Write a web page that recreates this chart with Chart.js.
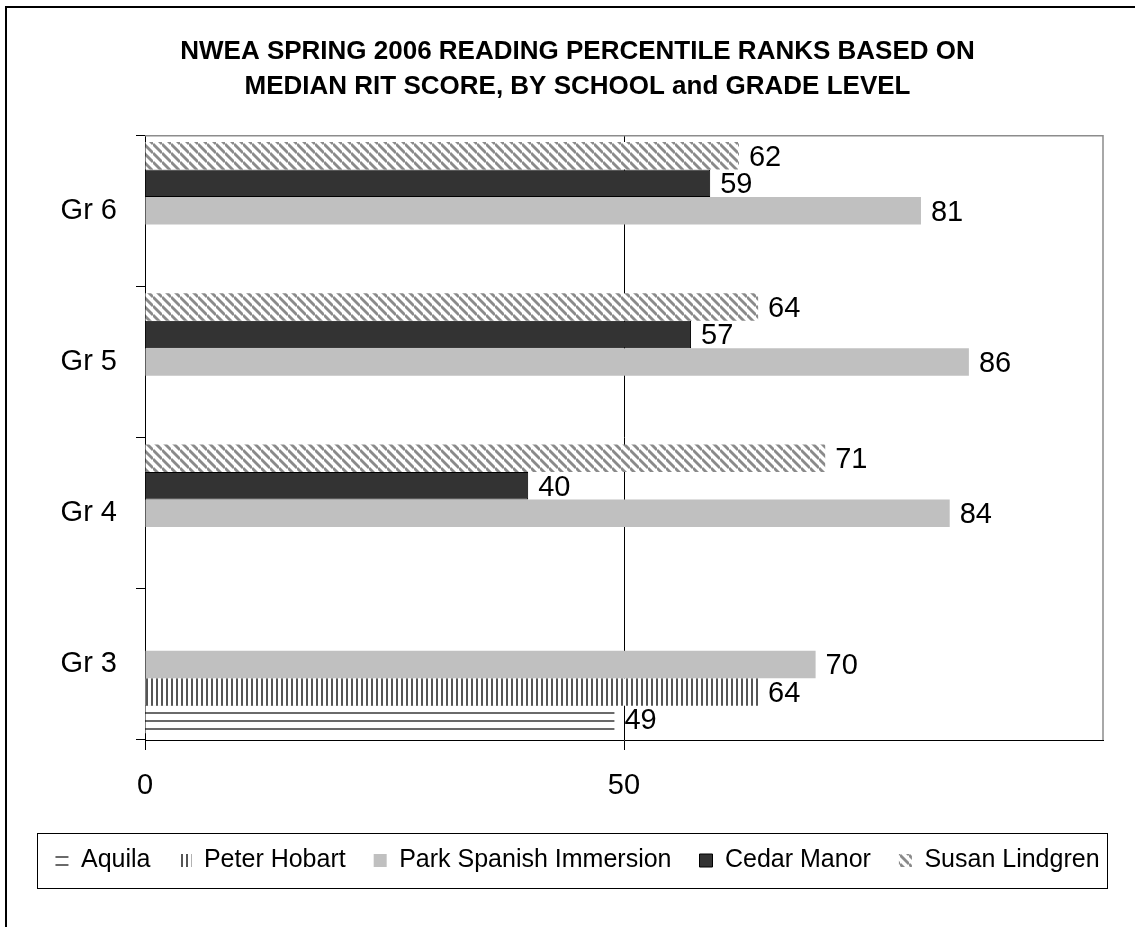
<!DOCTYPE html>
<html lang="en">
<head>
  <meta charset="UTF-8" />
  <title>NWEA Spring 2006 Reading Percentile Ranks</title>
  <script src="https://cdn.jsdelivr.net/npm/chart.js"></script>
  <style>
    body {
      margin: 0;
      background: #ffffff;
    }
    #chartContainer {
      width: 1135px;
      height: 927px;
    }
  </style>
</head>
<body>

  <div id="chartContainer">
    <canvas id="nweaChart"></canvas>
  </div>

  <script>
    // grades from top to bottom, as they appear in the chart
    const grades = ['Gr 6', 'Gr 5', 'Gr 4', 'Gr 3'];

    // one array per school, same order as grades
    const susanLindgren = [62, 64, 71, null];
    const cedarManor = [59, 57, 40, null];
    const parkSpanish = [81, 86, 84, 70];
    const peterHobart = [null, null, null, 64];
    const aquila = [null, null, null, 49];

    const xTicks = [0, 50, 100];
    const xTickLabels = ['0', '50', ''];

    const titleLines = [
      'NWEA SPRING 2006 READING PERCENTILE RANKS BASED ON',
      'MEDIAN RIT SCORE, BY SCHOOL and GRADE LEVEL'
    ];

    const FONT = '"Liberation Sans", Arial, sans-serif';

    // hatch fills like the old Excel patterns
    function makePattern(kind) {
      const c = document.createElement('canvas');
      const p = c.getContext('2d');
      if (kind === 'horizontal') {
        c.width = 8; c.height = 8;
        p.fillStyle = '#ffffff';
        p.fillRect(0, 0, 8, 8);
        p.fillStyle = '#6a6a6a';
        p.fillRect(0, 0, 8, 2);
      } else if (kind === 'vertical') {
        c.width = 5; c.height = 5;
        p.fillStyle = '#ffffff';
        p.fillRect(0, 0, 5, 5);
        p.fillStyle = '#555555';
        p.fillRect(1, 0, 2, 5);
      } else {
        const s = 9;
        c.width = s; c.height = s;
        p.fillStyle = '#ffffff';
        p.fillRect(0, 0, s, s);
        p.strokeStyle = '#8a8a8a';
        p.lineWidth = 2.8;
        for (let k = -1; k <= 1; k++) {
          p.beginPath();
          p.moveTo(0, k * s);
          p.lineTo(s, s + k * s);
          p.stroke();
        }
      }
      return p.createPattern(c, 'repeat');
    }

    // white page with the thin outer frame
    const pageFrame = {
      id: 'pageFrame',
      beforeDraw(chart) {
        const ctx = chart.ctx;
        ctx.save();
        ctx.fillStyle = '#ffffff';
        ctx.fillRect(0, 0, chart.width, chart.height);
        ctx.strokeStyle = '#000000';
        ctx.lineWidth = 2;
        ctx.strokeRect(6, 7, chart.width + 20, chart.height + 20);
        ctx.restore();
      }
    };

    // grey top and right edge of the plot area
    const plotFrame = {
      id: 'plotFrame',
      beforeDatasetsDraw(chart) {
        const a = chart.chartArea;
        const ctx = chart.ctx;
        ctx.save();
        ctx.strokeStyle = '#8c8c8c';
        ctx.lineWidth = 1.5;
        ctx.beginPath();
        ctx.moveTo(a.left, a.top + 0.5);
        ctx.lineTo(a.right, a.top + 0.5);
        ctx.lineTo(a.right, a.bottom);
        ctx.stroke();
        ctx.restore();
      }
    };

    // numbers at the end of each bar
    const valueLabels = {
      id: 'valueLabels',
      afterDatasetsDraw(chart) {
        const ctx = chart.ctx;
        ctx.save();
        ctx.font = '29px ' + FONT;
        ctx.fillStyle = '#000000';
        ctx.textAlign = 'left';
        ctx.textBaseline = 'middle';
        chart.data.datasets.forEach((ds, i) => {
          chart.getDatasetMeta(i).data.forEach((bar, j) => {
            const v = ds.data[j];
            if (v === null || v === undefined) return;
            ctx.fillText(String(v), bar.x + 10, bar.y + 2);
          });
        });
        ctx.restore();
      }
    };

    // box around the legend row
    const legendFrame = {
      id: 'legendFrame',
      afterDraw(chart) {
        const boxes = chart.legend && chart.legend.legendHitBoxes;
        if (!boxes || !boxes.length) return;
        const left = Math.min(...boxes.map(b => b.left)) - 18;
        const right = Math.max(...boxes.map(b => b.left + b.width)) + 8;
        const mid = boxes[0].top + boxes[0].height / 2;
        const ctx = chart.ctx;
        ctx.save();
        ctx.strokeStyle = '#000000';
        ctx.lineWidth = 1;
        ctx.strokeRect(Math.round(left) + 0.5, Math.round(mid - 28) + 0.5,
          Math.round(right - left), 55);
        ctx.restore();
      }
    };

    const ctx = document.getElementById('nweaChart').getContext('2d');
    const nweaChart = new Chart(ctx, {
      type: 'bar',
      data: {
        labels: grades,
        datasets: [
          {
            label: 'Susan Lindgren',
            data: susanLindgren,
            backgroundColor: makePattern('diagonal'),
            borderWidth: 0
          },
          {
            label: 'Cedar Manor',
            data: cedarManor,
            backgroundColor: '#333333',
            borderColor: '#000000',
            borderWidth: 1
          },
          {
            label: 'Park Spanish Immersion',
            data: parkSpanish,
            backgroundColor: '#c0c0c0',
            borderWidth: 0
          },
          {
            label: 'Peter Hobart',
            data: peterHobart,
            backgroundColor: makePattern('vertical'),
            borderWidth: 0
          },
          {
            label: 'Aquila',
            data: aquila,
            backgroundColor: makePattern('horizontal'),
            borderWidth: 0
          }
        ]
      },
      options: {
        indexAxis: 'y',
        responsive: true,
        maintainAspectRatio: false,
        animation: false,
        datasets: {
          bar: {
            barPercentage: 1,
            categoryPercentage: 0.91
          }
        },
        layout: {
          padding: { top: 10, left: 20, right: 0, bottom: 44 }
        },
        plugins: {
          title: {
            display: true,
            text: titleLines,
            color: '#000000',
            font: { family: FONT, size: 26, weight: 'bold', lineHeight: 1.35 },
            padding: { top: 24, bottom: 31 }
          },
          legend: {
            position: 'bottom',
            reverse: true,
            labels: {
              color: '#000000',
              font: { family: FONT, size: 25 },
              boxWidth: 13,
              boxHeight: 13,
              padding: 28
            }
          },
          tooltip: { enabled: false }
        },
        scales: {
          x: {
            min: 0,
            max: 100,
            afterBuildTicks: (scale) => {
              scale.ticks = xTicks.map(v => ({ value: v }));
            },
            afterFit: (scale) => {
              scale.height = 80;
            },
            ticks: {
              color: '#000000',
              font: { family: FONT, size: 29 },
              padding: 19,
              maxRotation: 0,
              callback: (value) => xTickLabels[xTicks.indexOf(value)]
            },
            grid: {
              drawOnChartArea: true,
              tickLength: 10,
              color: (c) => (c.tick && c.tick.value === 50) ? '#000000' : 'rgba(0,0,0,0)',
              tickColor: (c) => (c.tick && c.tick.value < 100) ? '#000000' : 'rgba(0,0,0,0)'
            },
            border: { color: '#000000', width: 1 }
          },
          y: {
            afterFit: (scale) => {
              scale.width = 125;
            },
            ticks: {
              color: '#000000',
              font: { family: FONT, size: 29 },
              padding: 19
            },
            grid: {
              offset: true,
              drawOnChartArea: false,
              tickLength: 9,
              color: '#000000'
            },
            border: { color: '#000000', width: 1 }
          },
          // empty margin on the right of the plot area
          yRight: {
            type: 'category',
            position: 'right',
            afterFit: (scale) => {
              scale.width = 32;
            },
            ticks: { display: false },
            grid: { display: false },
            border: { display: false }
          }
        }
      },
      plugins: [pageFrame, plotFrame, valueLabels, legendFrame]
    });
  </script>
</body>
</html>
